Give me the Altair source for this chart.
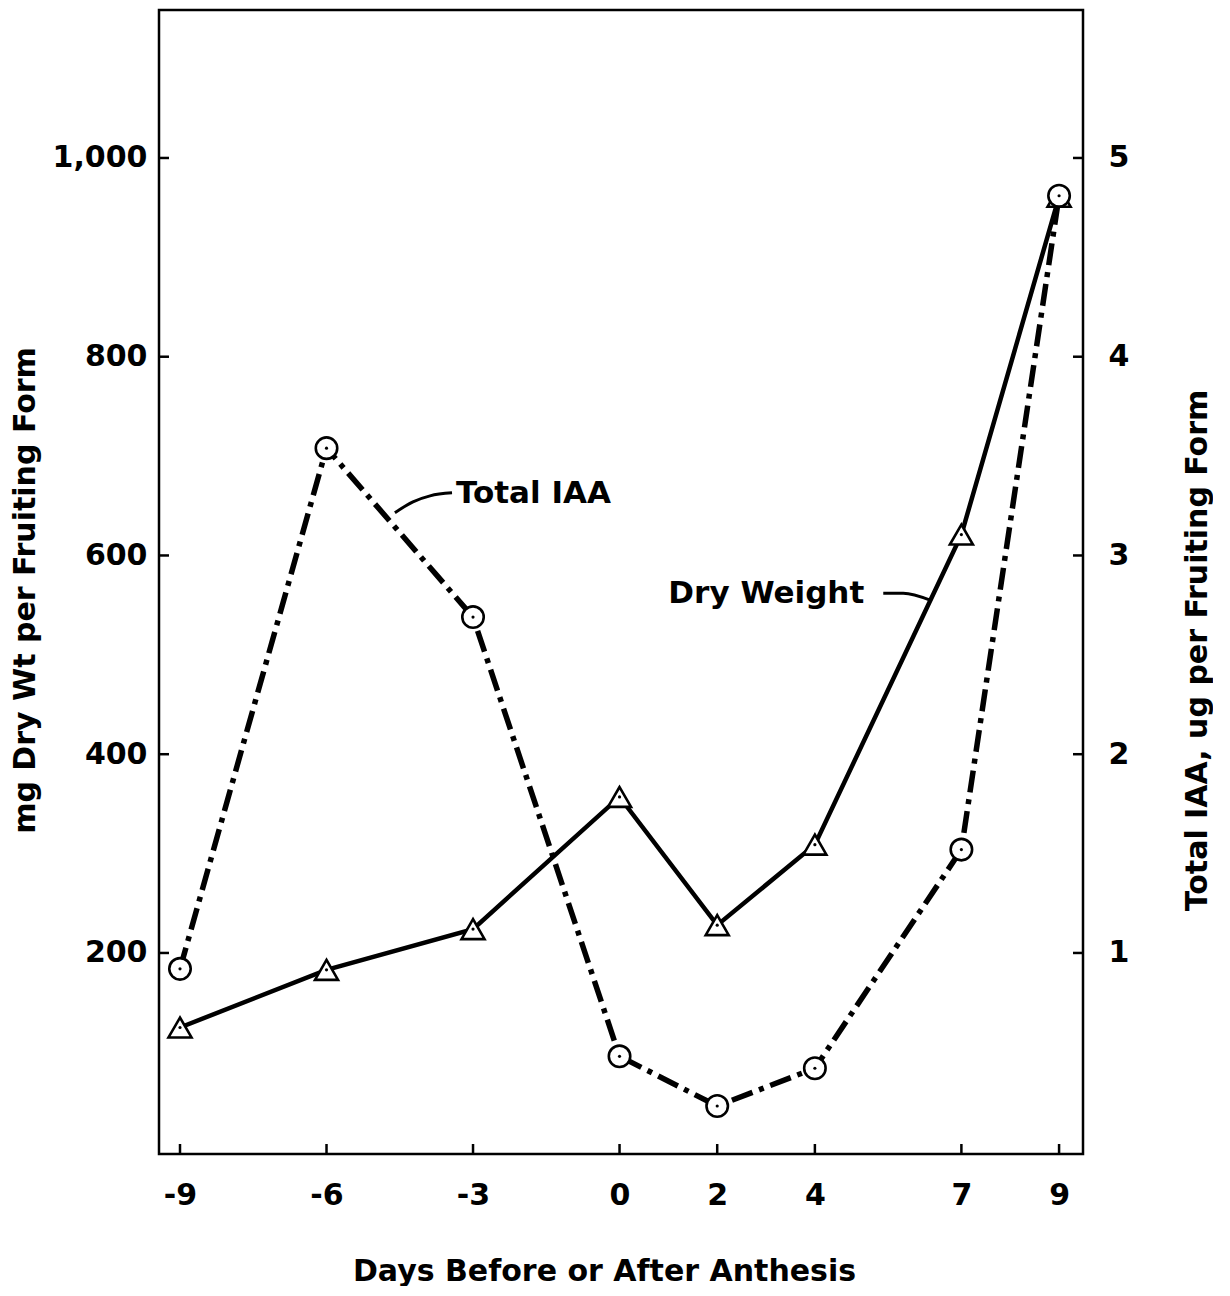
import altair as alt
import pandas as pd

# ---- data ----
days = [-9, -6, -3, 0, 2, 4, 7, 9]
dry_weight = [125, 183, 224, 357, 228, 309, 621, 961]          # mg, left axis
total_iaa = [0.92, 3.54, 2.69, 0.48, 0.23, 0.42, 1.52, 4.81]   # ug, right axis

x_ticks = [-9, -6, -3, 0, 2, 4, 7, 9]
left_ticks = [200, 400, 600, 800, 1000]
right_ticks = [1, 2, 3, 4, 5]

# annotation labels (data coordinates, left-axis units)
label_text = ["Total IAA", "Dry Weight"]
label_x = [-3.35, 1.0]
label_y = [662, 561]

# leader lines (data coordinates, left-axis units)
iaa_leader_x = [-4.60, -4.23, -3.88, -3.43]
iaa_leader_y = [643, 654, 660, 663]
dw_leader_x = [5.40, 5.81, 6.36]
dw_leader_y = [562, 562, 555]

W, H = 924, 1144
FONT = "DejaVu Sans"
FS = 30

xs = alt.Scale(domain=[-9.43, 9.49], nice=False, zero=False)
yl = alt.Scale(domain=[-2.3, 1148.9], nice=False, zero=False)
yr = alt.Scale(domain=[-0.0115, 5.7445], nice=False, zero=False)

dw = pd.DataFrame({"day": days, "v": dry_weight})
iaa = pd.DataFrame({"day": days, "v": total_iaa})
xt = pd.DataFrame({"v": x_ticks})
lt = pd.DataFrame({"v": left_ticks})
labels = pd.DataFrame({"x": label_x, "y": label_y, "t": label_text})
lead1 = pd.DataFrame({"x": iaa_leader_x, "y": iaa_leader_y, "o": range(len(iaa_leader_x))})
lead2 = pd.DataFrame({"x": dw_leader_x, "y": dw_leader_y, "o": range(len(dw_leader_x))})

axis_style = dict(labelFont=FONT, labelFontSize=FS, labelFontWeight="bold", labelColor="black",
                  titleFont=FONT, titleFontSize=FS, titleFontWeight="bold", titleColor="black",
                  ticks=False, domain=False, grid=False)

x_axis = alt.Axis(values=x_ticks, labelExpr="'' + datum.value",
                  labelPadding=26, title="Days Before or After Anthesis",
                  titlePadding=46, titleX=445, **axis_style)
y_axis = alt.Axis(values=left_ticks, format=",d",
                  labelPadding=12, title="mg Dry Wt per Fruiting Form", titlePadding=12,
                  titleY=580, **axis_style)
r_axis = alt.Axis(values=right_ticks, format="d", orient="right",
                  labelPadding=25, title="Total IAA, ug per Fruiting Form",
                  titleAngle=270, titlePadding=84, titleY=640, **axis_style)

base_dw = alt.Chart(dw).encode(
    x=alt.X("day:Q", scale=xs, axis=x_axis),
    y=alt.Y("v:Q", scale=yl, axis=y_axis),
)
dw_line = base_dw.mark_line(color="black", strokeWidth=4.5)
dw_pts = base_dw.mark_point(shape="triangle-up", size=530, fill="white", stroke="black",
                            strokeWidth=2.6, opacity=1, fillOpacity=1)
dw_dot = base_dw.mark_point(shape="circle", size=10, filled=True, color="black", opacity=1)

xticks = alt.Chart(xt).mark_rule(color="black", strokeWidth=2.5).encode(
    x=alt.X("v:Q", scale=xs), y=alt.value(H - 10), y2=alt.value(H))
lticks = alt.Chart(lt).mark_rule(color="black", strokeWidth=2.5).encode(
    y=alt.Y("v:Q", scale=yl), x=alt.value(0), x2=alt.value(10))
rticks = alt.Chart(lt).mark_rule(color="black", strokeWidth=2.5).encode(
    y=alt.Y("v:Q", scale=yl), x=alt.value(W - 10), x2=alt.value(W))

txt = alt.Chart(labels).mark_text(align="left", baseline="middle", font=FONT, fontSize=FS + 1,
                                  fontWeight="bold", color="black").encode(
    x=alt.X("x:Q", scale=xs), y=alt.Y("y:Q", scale=yl), text="t:N")
l1 = alt.Chart(lead1).mark_line(color="black", strokeWidth=3, interpolate="monotone").encode(
    x=alt.X("x:Q", scale=xs), y=alt.Y("y:Q", scale=yl), order="o:O")
l2 = alt.Chart(lead2).mark_line(color="black", strokeWidth=3, interpolate="monotone").encode(
    x=alt.X("x:Q", scale=xs), y=alt.Y("y:Q", scale=yl), order="o:O")

left_group = alt.layer(xticks, lticks, rticks, l1, l2, txt, dw_line, dw_pts, dw_dot)

base_iaa = alt.Chart(iaa).encode(
    x=alt.X("day:Q", scale=xs),
    y=alt.Y("v:Q", scale=yr, axis=r_axis),
)
iaa_line = base_iaa.mark_line(color="black", strokeWidth=5.5, strokeDash=[22, 7, 5, 7])
iaa_pts = base_iaa.mark_point(shape="circle", size=460, fill="white", stroke="black",
                              strokeWidth=2.6, opacity=1, fillOpacity=1)
iaa_dot = base_iaa.mark_point(shape="circle", size=10, filled=True, color="black", opacity=1)

right_group = alt.layer(iaa_line, iaa_pts, iaa_dot)

chart = alt.layer(left_group, right_group).resolve_scale(y="independent").properties(
    width=W, height=H,
    background="white",
    autosize=alt.AutoSizeParams(type="none"),
    padding={"left": 151, "top": 2, "right": 130, "bottom": 132},
).configure_view(stroke="black", strokeWidth=2.5)

chart.save("out.html", embed_options={"renderer": "svg", "actions": False})
